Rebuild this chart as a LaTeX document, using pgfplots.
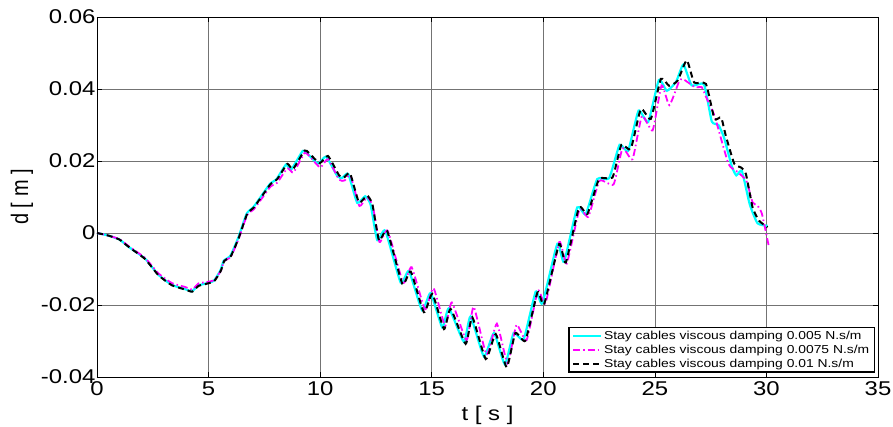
\documentclass[border=0pt]{standalone}
\usepackage{fontspec}
\setmainfont{Liberation Sans}
\usepackage{graphicx}
\usepackage{pgfplots}
\pgfplotsset{compat=1.18}
\definecolor{mcyan}{RGB}{0,255,255}
\definecolor{mmag}{RGB}{255,0,255}
\newcommand{\hs}[1]{\scalebox{1.2}[1]{#1}}
\begin{document}
\begin{tikzpicture}
\begin{axis}[
 scale only axis, width=781bp, height=360bp,
 xmin=0,xmax=35,ymin=-0.04,ymax=0.06,
 scaled ticks=false,
 xtick={0,5,10,15,20,25,30,35},
 xticklabels={\hs{0},\hs{5},\hs{10},\hs{15},\hs{20},\hs{25},\hs{30},\hs{35}},
 ytick={-0.04,-0.02,0,0.02,0.04,0.06},
 yticklabels={\hs{-0.04},\hs{-0.02},\hs{0},\hs{0.02},\hs{0.04},\hs{0.06}},
 grid=major, major grid style={black!55, line width=0.5bp},
 tick align=inside, major tick length=5bp,
 tick style={black, line width=0.6bp},
 axis line style={black,line width=0.8bp},
 ticklabel style={font=\fontsize{20}{22}\selectfont},
 yticklabel style={xshift=2bp},
 xticklabel style={yshift=-1.5bp},
 xlabel={\hs{t [ s ]}}, ylabel={\scalebox{1}[1.2]{d [ m ]}},
 label style={font=\fontsize{20}{22}\selectfont},
 xlabel style={yshift=-3bp},
 ylabel style={yshift=1bp},
 legend style={at={(0.996,0.012)}, anchor=south east,
   font=\fontsize{11.6}{13.5}\selectfont, draw=black, line width=1.2bp,
   inner xsep=3bp, inner ysep=1.5bp, row sep=0bp, nodes={inner sep=2bp}},
 legend cell align=left,
 legend image code/.code={\draw[#1] (0bp,0bp) -- (28bp,0bp);},
]
\addplot[mcyan, line width=2.2bp, smooth, tension=0.3] coordinates {
(0,0) (0.5,-0.0007) (1.0,-0.0018) (1.45,-0.004) (2.15,-0.0071) (2.75,-0.0116) (3.35,-0.0144) (3.95,-0.0156) (4.25,-0.0162) (4.53,-0.0146) (4.83,-0.0141) (5.23,-0.0133) (5.53,-0.0104) (5.68,-0.0077) (5.98,-0.0063) (6.33,-0.0013) (6.71,0.0054) (7.01,0.0072) (7.39,0.0105) (7.76,0.0137) (8.05,0.0150) (8.47,0.0190) (8.7,0.0176) (9.22,0.0228) (9.42,0.0221) (9.9,0.0193) (10.27,0.0212) (10.77,0.0158) (10.99,0.0153) (11.26,0.0164) (11.66,0.0084) (12.02,0.0102) (12.26,0.0079) (12.56,-0.0020) (12.92,0.0006) (13.61,-0.0138) (13.98,-0.0106) (14.57,-0.0215) (14.95,-0.0167) (15.47,-0.0262) (15.77,-0.0209) (16.44,-0.0302) (16.74,-0.0232) (17.34,-0.0343) (17.79,-0.0278) (18.28,-0.0365) (18.67,-0.0278) (19.12,-0.0295) (19.66,-0.0163) (19.96,-0.0195) (20.63,-0.0030) (20.93,-0.0080) (21.52,0.0071) (21.9,0.0052) (22.42,0.0150) (22.95,0.0152) (23.42,0.0245) (23.8,0.0228) (24.27,0.0340) (24.7,0.0308) (25.18,0.0425) (25.54,0.0395) (25.95,0.0420) (26.28,0.0468) (26.65,0.0410) (27.2,0.0413) (27.55,0.0310) (27.85,0.0300) (28.1,0.0265) (28.45,0.0185) (28.65,0.0160) (28.9,0.0172) (29.25,0.0080) (29.6,0.0027) (30.05,0.0020)
};
\addlegendentry{\hs{Stay cables viscous damping 0.005 N.s/m}}
\addplot[mmag, line width=1.8bp, smooth, tension=0.3, dash pattern=on 7bp off 3bp on 1.5bp off 3bp] coordinates {
(0,0) (0.5,-0.0007) (1.0,-0.0017) (1.45,-0.0038) (2.15,-0.0069) (2.75,-0.0112) (3.35,-0.0139) (3.95,-0.0150) (4.27,-0.0157) (4.55,-0.0140) (4.85,-0.0137) (5.25,-0.0131) (5.55,-0.0105) (5.7,-0.0078) (6.0,-0.0066) (6.35,-0.0016) (6.73,0.0050) (7.03,0.0066) (7.41,0.0098) (7.78,0.0129) (8.08,0.0140) (8.53,0.0180) (8.8,0.0168) (9.3,0.0222) (9.5,0.0215) (10.0,0.0182) (10.35,0.0205) (10.85,0.0148) (11.1,0.0146) (11.36,0.0160) (11.76,0.0075) (12.1,0.0100) (12.36,0.0075) (12.66,-0.0025) (13.03,0.0006) (13.72,-0.0138) (14.1,-0.0095) (14.7,-0.0212) (15.08,-0.0153) (15.6,-0.0258) (15.9,-0.0193) (16.56,-0.0298) (16.88,-0.0205) (17.46,-0.0338) (17.92,-0.0252) (18.4,-0.0362) (18.8,-0.0255) (19.25,-0.0298) (19.76,-0.0160) (20.1,-0.0195) (20.72,-0.0025) (21.05,-0.0085) (21.62,0.0065) (22.02,0.0045) (22.52,0.0145) (23.15,0.0135) (23.55,0.0235) (24.0,0.0205) (24.42,0.0325) (24.9,0.0285) (25.3,0.0410) (25.65,0.0355) (26.08,0.0420) (26.25,0.0428) (26.8,0.0405) (27.1,0.0405) (27.3,0.0377) (27.67,0.0326) (28.3,0.0192) (28.7,0.0170) (29.1,0.0145) (29.38,0.0085) (29.6,0.0076) (29.8,0.0053) (30.1,-0.0035)
};
\addlegendentry{\hs{Stay cables viscous damping 0.0075 N.s/m}}
\addplot[black, line width=2bp, smooth, tension=0.3, dash pattern=on 6bp off 4bp] coordinates {
(0,0) (0.5,-0.0007) (1.0,-0.0018) (1.45,-0.004) (2.15,-0.0072) (2.75,-0.0117) (3.35,-0.0145) (3.95,-0.0157) (4.27,-0.0163) (4.55,-0.0147) (4.85,-0.0142) (5.25,-0.0134) (5.55,-0.0105) (5.7,-0.0078) (6.0,-0.0064) (6.35,-0.0014) (6.73,0.0053) (7.03,0.0071) (7.41,0.0104) (7.78,0.0136) (8.08,0.0150) (8.53,0.0192) (8.78,0.0177) (9.3,0.0229) (9.5,0.0222) (9.98,0.0194) (10.35,0.0214) (10.85,0.0160) (11.07,0.0154) (11.34,0.0166) (11.74,0.0085) (12.1,0.0104) (12.34,0.0080) (12.64,-0.0021) (13.0,0.0006) (13.69,-0.0142) (14.06,-0.0107) (14.65,-0.0220) (15.03,-0.0169) (15.55,-0.0267) (15.85,-0.0211) (16.52,-0.0308) (16.82,-0.0234) (17.42,-0.0350) (17.87,-0.0281) (18.36,-0.0373) (18.75,-0.0278) (19.2,-0.0299) (19.74,-0.0165) (20.04,-0.0197) (20.71,-0.0031) (21.01,-0.0082) (21.6,0.0071) (21.98,0.0053) (22.5,0.0150) (23.1,0.0154) (23.5,0.0245) (23.92,0.0233) (24.37,0.0344) (24.82,0.0317) (25.27,0.0428) (25.64,0.0409) (26.02,0.0423) (26.43,0.0480) (26.76,0.0418) (27.29,0.0414) (27.67,0.0317) (27.97,0.0321) (28.18,0.0270) (28.56,0.0192) (28.86,0.0182) (29.08,0.0164) (29.38,0.0071) (29.67,0.0034) (30.05,0.0016)
};
\addlegendentry{\hs{Stay cables viscous damping 0.01 N.s/m}}
\end{axis}
\pgfresetboundingbox
\path ([shift={(-97bp,-50bp)}]current axis.south west) rectangle ([shift={(15bp,17bp)}]current axis.north east);
\end{tikzpicture}
\end{document}
